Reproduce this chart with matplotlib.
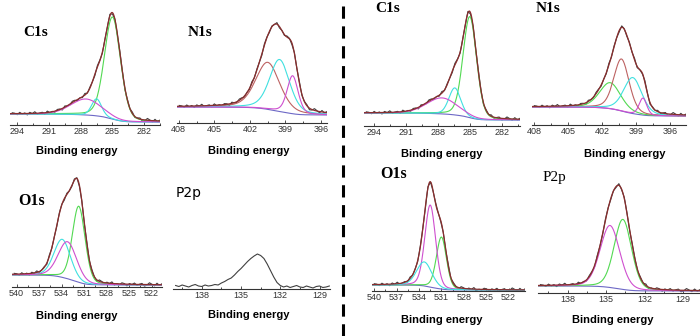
import numpy as np
import matplotlib.pyplot as plt
from matplotlib.lines import Line2D
from matplotlib.ticker import MultipleLocator

# ---------------- spectra ----------------
# fitted components: centre (eV), height above background (a.u.), FWHM (eV)
# background: [level at low binding energy, level at high binding energy]

# sample A (left)
A_C1S_CENTER = [285.0, 286.5, 287.5]
A_C1S_HEIGHT = [102, 17, 16]
A_C1S_FWHM = [1.8, 1.1, 3.4]
A_C1S_BG = [3, 11]

A_N1S_CENTER = [400.5, 399.5, 398.4]
A_N1S_HEIGHT = [47, 52, 38]
A_N1S_FWHM = [2.4, 2.0, 1.1]
A_N1S_BG = [8, 16]

A_O1S_CENTER = [531.7, 533.9, 533.2]
A_O1S_HEIGHT = [76, 38, 37]
A_O1S_FWHM = [2.0, 2.6, 2.9]
A_O1S_BG = [2, 12]

# P2p of sample A was not fitted, raw counts only
A_P2P_BE = np.arange(140.0, 128.1, -0.25)
A_P2P_COUNTS = [3.5, 2.5, 4.0, 3.0, 2.0, 3.5, 4.5, 3.0, 2.5, 4.0, 3.0, 3.5,
                4.5, 4.0, 6.0, 7.5, 9.5, 11.0, 14.0, 17.5, 20.5, 24.0, 27.5, 30.5,
                33.0, 35.0, 33.5, 30.5, 25.0, 18.5, 12.0, 6.5, 3.5, 2.0, 3.0, 1.5,
                2.5, 3.5, 2.0, 1.5, 3.0, 2.0, 1.0, 2.5, 3.0, 1.5, 2.0, 3.0]

# sample B (right)
B_C1S_CENTER = [285.0, 286.4, 287.6]
B_C1S_HEIGHT = [101, 27, 16]
B_C1S_FWHM = [1.5, 1.3, 3.4]
B_C1S_BG = [6, 13]

B_N1S_CENTER = [401.3, 400.3, 399.3, 398.4]
B_N1S_HEIGHT = [26, 52, 36, 17]
B_N1S_FWHM = [2.2, 1.6, 1.9, 0.8]
B_N1S_BG = [9, 18]

B_O1S_CENTER = [531.0, 532.5, 533.3]
B_O1S_HEIGHT = [52, 82, 24]
B_O1S_FWHM = [1.6, 1.7, 2.4]
B_O1S_BG = [1, 6]

B_P2P_CENTER = [133.7, 134.7]
B_P2P_HEIGHT = [70, 62]
B_P2P_FWHM = [1.6, 1.8]
B_P2P_BG = [2, 7]

# residuals of the measured counts around the fit envelope
RESIDUAL = [0.8, -0.6, 1.2, -1.0, 0.3, 1.5, -0.4, -1.3, 0.9, 0.2, -0.8, 1.1,
            -0.2, 0.6, -1.4, 0.4, 1.0, -0.7, 0.1, -1.1, 1.3, -0.3, 0.7, -0.9,
            0.5, 1.2, -1.2, 0.0, 0.9, -0.5, 1.4, -0.8, 0.2, -1.0, 0.6, 1.1,
            -0.6, -0.2, 1.0, -1.3, 0.4, 0.8, -0.9, 0.3, -0.4, 1.2, -1.1, 0.6,
            0.1, -0.7, 1.3, -0.2, 0.9, -1.2, 0.5, -0.5, 1.0, -0.9, 0.3, 0.7]

C1S_TICKS = [294, 291, 288, 285, 282]
N1S_TICKS = [408, 405, 402, 399, 396]
O1S_TICKS = [540, 537, 534, 531, 528, 525, 522]
P2P_TICKS = [138, 135, 132, 129]

# ---------------- style ----------------
GREEN = "#52d952"
CYAN = "#40e0e0"
MAGENTA = "#cf4fcf"
ROSY = "#bd6262"
BG_COL = "#6d68c6"
ENV_COL = "#8a2e2e"
DATA_COL = "#404040"

W, H = 700, 336
SERIF = "Liberation Serif"
SANS = "Liberation Sans"

fig = plt.figure(figsize=(W / 100, H / 100), dpi=100)


def pseudo_voigt(e, centre, height, fwhm, mix=0.2):
    x = 4.0 * (e - centre) ** 2 / fwhm ** 2
    return height * ((1 - mix) * np.exp(-np.log(2) * x) + mix / (1 + x))


def make_axes(x0, x1, y_axis, y_top, xlim, ticks):
    ax = fig.add_axes([x0 / W, 1 - y_axis / H, (x1 - x0) / W, (y_axis - y_top) / H])
    ax.set_xlim(*xlim)
    ax.set_ylim(0, y_axis - y_top)
    for s in ("top", "right", "left"):
        ax.spines[s].set_visible(False)
    ax.spines["bottom"].set_linewidth(0.8)
    ax.spines["bottom"].set_color("#333333")
    ax.set_yticks([])
    ax.set_xticks(ticks)
    ax.xaxis.set_minor_locator(MultipleLocator(1.5))
    ax.tick_params(axis="x", which="major", direction="in", length=2.5, width=0.6,
                   pad=1.5, labelsize=6.5, colors="#333333")
    ax.tick_params(axis="x", which="minor", direction="in", length=1.5, width=0.5)
    for lab in ax.get_xticklabels():
        lab.set_fontfamily(SANS)
    ax.patch.set_visible(False)
    return ax


def draw_fit(ax, centers, heights, fwhms, bg, colors, mix=0.2):
    lo, hi = sorted(ax.get_xlim())
    e = np.linspace(lo, hi, 600)
    comps = [pseudo_voigt(e, c, h, w, mix) for c, h, w in zip(centers, heights, fwhms)]
    total = np.sum(comps, axis=0)
    # Shirley-type step under the peaks
    cum = np.cumsum(total)
    base = bg[0] + (bg[1] - bg[0]) * cum / cum[-1]
    env = base + total
    step = len(e) // len(RESIDUAL)
    ax.plot(e[::step], env[::step] + np.array(RESIDUAL[:len(e[::step])]) * 1.2,
            color=DATA_COL, lw=0.8)
    ax.plot(e, base, color=BG_COL, lw=0.8)
    for comp, col in zip(comps, colors):
        ax.plot(e, base + comp, color=col, lw=0.8)
    ax.plot(e, env, color=ENV_COL, lw=0.9)


def label(x, y, text, **kw):
    fig.text(x / W, 1 - y / H, text, ha="center", va="center", **kw)


BE_KW = dict(family=SANS, weight="bold", fontsize=8)

# ---- sample A ----
ax = make_axes(10, 160, 125, 3, (294.7, 280.5), C1S_TICKS)
draw_fit(ax, A_C1S_CENTER, A_C1S_HEIGHT, A_C1S_FWHM, A_C1S_BG, [GREEN, CYAN, MAGENTA])
label(36, 32, "C1s", family=SERIF, weight="bold", fontsize=11)
label(77, 151, "Binding energy", **BE_KW)

ax = make_axes(177, 327, 123, 10, (408.15, 395.5), N1S_TICKS)
draw_fit(ax, A_N1S_CENTER, A_N1S_HEIGHT, A_N1S_FWHM, A_N1S_BG, [ROSY, CYAN, MAGENTA], mix=0.35)
label(200, 33, "N1s", family=SERIF, weight="bold", fontsize=11)
label(249, 151, "Binding energy", **BE_KW)

ax = make_axes(12, 162, 287, 172, (540.6, 520.6), O1S_TICKS)
draw_fit(ax, A_O1S_CENTER, A_O1S_HEIGHT, A_O1S_FWHM, A_O1S_BG, [GREEN, CYAN, MAGENTA])
label(32, 201, "O1s", family=SERIF, weight="bold", fontsize=11.5)
label(77, 316, "Binding energy", **BE_KW)

ax = make_axes(173, 330, 289, 172, (140.2, 128.2), P2P_TICKS)
ax.plot(A_P2P_BE, A_P2P_COUNTS, color=DATA_COL, lw=0.8)
label(189, 193, "P2p", family="DejaVu Sans", fontsize=10)
label(249, 315, "Binding energy", **BE_KW)

# ---- sample B ----
ax = make_axes(364, 520, 126, 3, (294.9, 280.3), C1S_TICKS)
draw_fit(ax, B_C1S_CENTER, B_C1S_HEIGHT, B_C1S_FWHM, B_C1S_BG, [GREEN, CYAN, MAGENTA])
label(388, 8, "C1s", family=SERIF, weight="bold", fontsize=11)
label(442, 154, "Binding energy", **BE_KW)

ax = make_axes(532, 686, 125, 10, (408.2, 394.6), N1S_TICKS)
draw_fit(ax, B_N1S_CENTER, B_N1S_HEIGHT, B_N1S_FWHM, B_N1S_BG, [GREEN, ROSY, CYAN, MAGENTA], mix=0.3)
label(548, 8, "N1s", family=SERIF, weight="bold", fontsize=11)
label(625, 154, "Binding energy", **BE_KW)

ax = make_axes(372, 525, 291, 172, (540.3, 519.8), O1S_TICKS)
draw_fit(ax, B_O1S_CENTER, B_O1S_HEIGHT, B_O1S_FWHM, B_O1S_BG, [GREEN, MAGENTA, CYAN])
label(394, 174, "O1s", family=SERIF, weight="bold", fontsize=11.5)
label(442, 320, "Binding energy", **BE_KW)

ax = make_axes(538, 700, 293, 172, (140.3, 127.7), P2P_TICKS)
draw_fit(ax, B_P2P_CENTER, B_P2P_HEIGHT, B_P2P_FWHM, B_P2P_BG, [GREEN, MAGENTA])
label(554, 177, "P2p", family=SERIF, fontsize=11)
label(613, 320, "Binding energy", **BE_KW)

# dashed divider between the two samples
fig.add_artist(Line2D([343 / W, 343 / W], [0, 1], color="black", lw=2.2,
                      linestyle=(0, (4, 2.5))))

fig.savefig("out.png", dpi=100)
